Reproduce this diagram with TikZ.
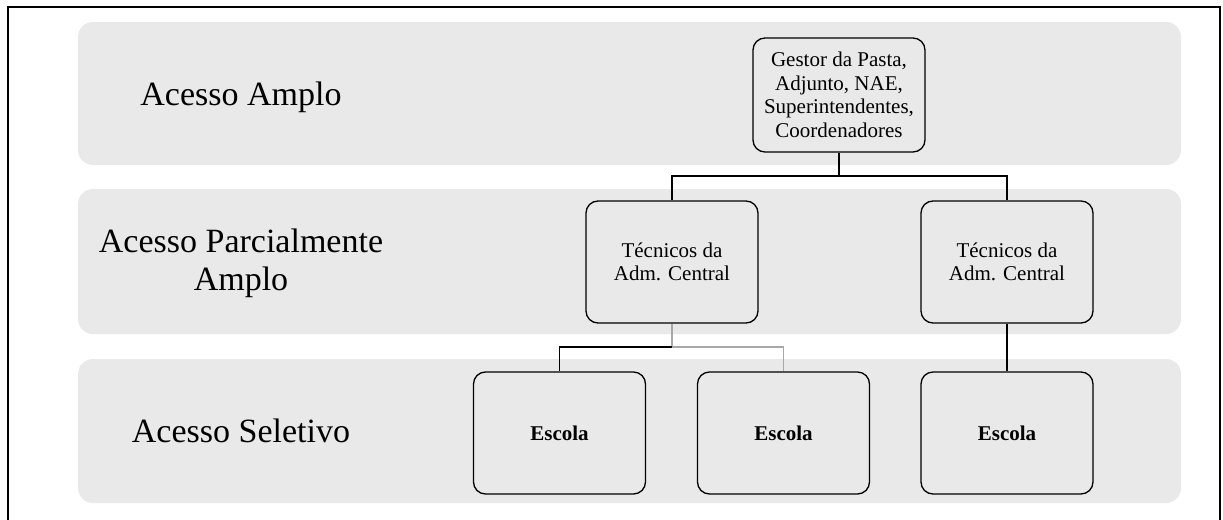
\documentclass[tikz,border=0pt]{standalone}
\usepackage{fontspec}
\setmainfont{Liberation Serif}
\definecolor{faixacinza}{HTML}{E9E9E9}
\definecolor{ligacinza}{HTML}{A8A8A8}
\tikzset{
  faixa/.style={fill=faixacinza, rounded corners=7.5pt},
  nivel/.style={font=\fontsize{17}{19}\selectfont, align=center, anchor=base},
  cargo/.style={draw, rounded corners=6pt, line width=0.65pt, fill=faixacinza, minimum width=86pt, minimum height=61pt, align=center, inner sep=2pt, font=\fontsize{10.5}{11.8}\selectfont},
  escola/.style={cargo, font=\fontsize{10.5}{11.8}\selectfont\bfseries},
  liga/.style={line width=0.6pt}
}

\begin{document}
\begin{tikzpicture}[x=0.5pt, y=-0.5pt]
            \useasboundingbox (0,0) rectangle (1223,520);
            \draw[line width=1pt] (8,520) -- (8,7) -- (1220,7) -- (1220,520);
            \fill[faixa] (78,22) rectangle (1181,165);
            \fill[faixa] (78,189) rectangle (1181,334);
            \fill[faixa] (78,359) rectangle (1181,503);
            \node[nivel] (amplo) at (241,105) {Acesso Amplo};
            \node[nivel] (parcial) at (241,290) {Acesso Parcialmente\\Amplo};
            \node[nivel] (seletivo) at (241,442) {Acesso Seletivo};
            \node[cargo, minimum height=57pt] (gestor) at (839,95) {Gestor da Pasta,\\Adjunto, NAE,\\Superintendentes,\\Coordenadores};
            \node[cargo] (tec1) at (672,262) {Técnicos da\\Adm. Central};
            \node[cargo] (tec2) at (1007,262) {Técnicos da\\Adm. Central};
            \node[escola] (esc1) at (559.5,433) {Escola};
            \node[escola] (esc2) at (783.5,433) {Escola};
            \node[escola] (esc3) at (1007,433) {Escola};
            \coordinate (j1) at (839,176);
            \coordinate (j2) at (672,347);
            \draw[liga] (gestor.south) -- (j1) -| (tec1.north);
            \draw[liga] (j1) -| (tec2.north);
            \draw[liga, ligacinza] (tec1.south) -- (j2) -| (esc2.north);
            \draw[liga] (j2) -| (esc1.north);
            \draw[liga] (tec2.south) -- (esc3.north);
        \end{tikzpicture}
\end{document}
